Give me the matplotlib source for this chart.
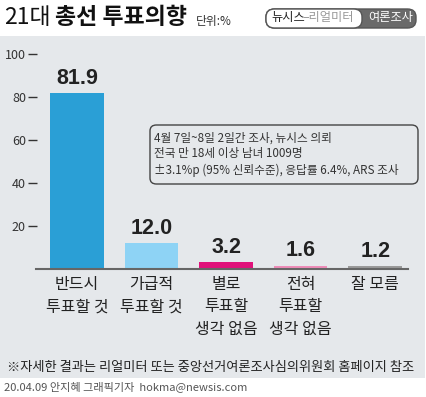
import matplotlib
matplotlib.use("Agg")
import matplotlib.pyplot as plt
from matplotlib.patches import FancyBboxPatch, Rectangle

plt.rcParams['font.family'] = ['Noto Sans CJK KR', 'DejaVu Sans']

categories = ["반드시\n투표할 것", "가급적\n투표할 것", "별로\n투표할\n생각 없음", "전혀\n투표할\n생각 없음", "잘 모름"]
values = [81.9, 12.0, 3.2, 1.6, 1.2]
value_labels = ["81.9", "12.0", "3.2", "1.6", "1.2"]
colors = ["#2A9FD6", "#8ED3F5", "#E0127A", "#EE8DB9", "#9A9A9A"]
yticks = [20, 40, 60, 80, 100]

W, H = 427, 397
fig = plt.figure(figsize=(W/100, H/100), dpi=100)
fig.patch.set_facecolor("white")

def fx(px): return px / W
def fy(py): return 1 - py / H

# gray panel
fig.patches.append(Rectangle((0, fy(378)), fx(425), fy(36) - fy(378), transform=fig.transFigure,
                             facecolor="#E5E8EB", edgecolor="none", zorder=-10))

ax = fig.add_axes([fx(37), fy(269), fx(408) - fx(37), fy(54) - fy(269)])
ax.set_zorder(1)
ax.set_facecolor("none")
x = list(range(len(values)))
ax.bar(x, values, width=0.72, color=colors, zorder=2)
ax.set_xlim(-0.537, 4.44)
ax.set_ylim(0, 100)
for s in ax.spines.values():
    s.set_visible(False)
ax.set_yticks(yticks)
ax.set_yticklabels([str(t) for t in yticks], fontsize=9, color="#333333")
ax.tick_params(axis='y', length=6.5, width=1.0, color="#333333", pad=1.5)
ax.set_xticks([])
ax.axhline(0, color="#666666", lw=1.5, xmin=-0.003, xmax=1, clip_on=False, zorder=3)

for xi, v, lab in zip(x, values, value_labels):
    ax.annotate(lab, (xi, v), xytext=(0, 3), textcoords="offset points", ha="center", va="bottom",
                fontsize=15.5, fontweight="bold", color="#222222", fontstretch="condensed",
                family=["Liberation Sans Narrow", "Liberation Sans", "DejaVu Sans"])

for xi, c in zip(x, categories):
    ax.annotate(c, (xi, 0), xytext=(0, -5), textcoords="offset points", ha="center", va="top",
                fontsize=11.5, color="#222222", linespacing=1.42, annotation_clip=False)

# note box
fig.patches.append(FancyBboxPatch((fx(150), fy(184)), fx(418) - fx(150), fy(125) - fy(184),
                                  boxstyle="round,pad=0,rounding_size=0.015", transform=fig.transFigure,
                                  facecolor="none", edgecolor="#444444", lw=1.0))
note = "4월 7일~8일 2일간 조사, 뉴시스 의뢰\n전국 만 18세 이상 남녀 1009명\n±3.1%p (95% 신뢰수준), 응답률 6.4%, ARS 조사"
fig.text(fx(154), fy(154), note, fontsize=8.4, color="#333333", va="center", ha="left", linespacing=1.3)

# title
fig.text(fx(4), fy(18), "21대", fontsize=16.5, color="#111111", va="center", ha="left")
fig.text(fx(55), fy(18), "총선 투표의향", fontsize=16.5, fontweight="bold", color="#111111", va="center", ha="left")
fig.text(fx(196), fy(21), "단위:%", fontsize=8.5, color="#333333", va="center", ha="left")

# badge
fig.patches.append(FancyBboxPatch((fx(266), fy(28)), fx(416) - fx(266), fy(9) - fy(28),
                                  boxstyle="round,pad=0,rounding_size=0.02", transform=fig.transFigure,
                                  facecolor="#6A6A6A", edgecolor="#555555", lw=1.0))
fig.patches.append(FancyBboxPatch((fx(266), fy(28)), fx(362) - fx(266), fy(9) - fy(28),
                                  boxstyle="round,pad=0,rounding_size=0.02", transform=fig.transFigure,
                                  facecolor="white", edgecolor="#555555", lw=1.0))
fig.text(fx(271), fy(18), "뉴시스", fontsize=8.8, color="#222222", va="center", ha="left")
fig.text(fx(302), fy(18), "–리얼미터", fontsize=8.8, color="#999999", va="center", ha="left")
fig.text(fx(368), fy(18), "여론조사", fontsize=8.8, color="white", va="center", ha="left")

# footnote
fig.text(fx(7), fy(367), "※자세한 결과는 리얼미터 또는 중앙선거여론조사심의위원회 홈페이지 참조",
         fontsize=9.5, color="#222222", va="center", ha="left")
fig.text(fx(4), fy(387), "20.04.09 안지혜 그래픽기자  hokma@newsis.com",
         fontsize=8, color="#555555", va="center", ha="left")

fig.savefig("out.png", dpi=100)
